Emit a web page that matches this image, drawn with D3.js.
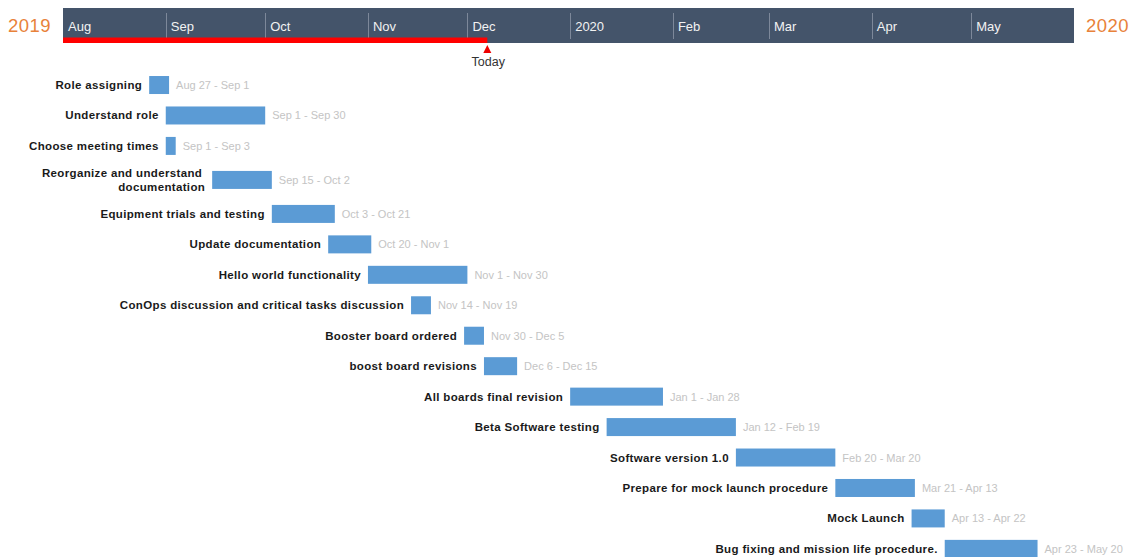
<!DOCTYPE html>
<html>
<head>
<meta charset="utf-8">
<script src="https://cdn.jsdelivr.net/npm/d3@7"></script>
<style>
  html, body { margin: 0; padding: 0; background: #ffffff; }
  svg { display: block; }
</style>
</head>
<body>
<svg id="chart" width="1133" height="557"></svg>
<script>
// ---- data ----
const tasks = [
  "Role assigning",
  "Understand role",
  "Choose meeting times",
  "Reorganize and understand|documentation",
  "Equipment trials and testing",
  "Update documentation",
  "Hello world functionality",
  "ConOps discussion and critical tasks discussion",
  "Booster board ordered",
  "boost board revisions",
  "All boards final revision",
  "Beta Software testing",
  "Software version 1.0",
  "Prepare for mock launch procedure",
  "Mock Launch",
  "Bug fixing and mission life procedure."
];
const startDates = [
  "2019-08-27", "2019-09-01", "2019-09-01", "2019-09-15", "2019-10-03",
  "2019-10-20", "2019-11-01", "2019-11-14", "2019-11-30", "2019-12-06",
  "2020-01-01", "2020-01-12", "2020-02-20", "2020-03-21", "2020-04-13",
  "2020-04-23"
];
const endDates = [
  "2019-09-01", "2019-09-30", "2019-09-03", "2019-10-02", "2019-10-21",
  "2019-11-01", "2019-11-30", "2019-11-19", "2019-12-05", "2019-12-15",
  "2020-01-28", "2020-02-19", "2020-03-20", "2020-04-13", "2020-04-22",
  "2020-05-20"
];
const monthTickLabels = ["Aug", "Sep", "Oct", "Nov", "Dec", "2020", "Feb", "Mar", "Apr", "May"];
const domainStart = "2019-08-01";
const domainEnd = "2020-06-01";
const todayDate = "2019-12-07";
const leftYearLabel = "2019";
const rightYearLabel = "2020";

// ---- helpers ----
const parse = d3.timeParse("%Y-%m-%d");
const fmt = d3.timeFormat("%b %-d");

const svg = d3.select("#chart");

const x = d3.scaleTime()
  .domain([parse(domainStart), parse(domainEnd)])
  .range([63, 1074]);

// header
const headerTop = 8, headerBottom = 43;
svg.append("rect")
  .attr("x", x.range()[0]).attr("y", headerTop)
  .attr("width", x.range()[1] - x.range()[0])
  .attr("height", headerBottom - headerTop)
  .attr("fill", "#44546a");

const monthTicks = d3.timeMonth.range(parse(domainStart), parse(domainEnd));
const hdr = svg.append("g");
hdr.selectAll("line.sep")
  .data(monthTicks.slice(1))
  .join("line")
  .attr("class", "sep")
  .attr("x1", d => Math.round(x(d)) + 0.5)
  .attr("x2", d => Math.round(x(d)) + 0.5)
  .attr("y1", 13).attr("y2", 39)
  .attr("stroke", "#7d889a").attr("stroke-width", 1);

hdr.selectAll("text.month")
  .data(monthTicks)
  .join("text")
  .attr("class", "month")
  .attr("x", d => x(d) + 5)
  .attr("y", 30.5)
  .attr("fill", "#f2f2f2")
  .attr("font-family", "Liberation Sans, Arial, sans-serif")
  .attr("font-size", 13)
  .text((d, i) => monthTickLabels[i]);

// progress line
const today = parse(todayDate);
svg.append("rect")
  .attr("x", x.range()[0]).attr("y", 37.5)
  .attr("width", x(today) - x.range()[0])
  .attr("height", 5.5)
  .attr("fill", "#ff0000");

// today marker
const tx = x(today);
svg.append("path")
  .attr("d", `M${tx},45 L${tx - 4},53 L${tx + 4},53 Z`)
  .attr("fill", "#ee0000");
svg.append("text")
  .attr("x", tx + 1).attr("y", 66)
  .attr("text-anchor", "middle")
  .attr("fill", "#333")
  .attr("font-family", "Liberation Sans, Arial, sans-serif")
  .attr("font-size", 12.5)
  .text("Today");

// year labels
svg.append("text")
  .attr("x", 8).attr("y", 32)
  .attr("fill", "#e8823a")
  .attr("font-family", "Liberation Sans, Arial, sans-serif")
  .attr("font-size", 18.5)
  .attr("letter-spacing", 0.5)
  .text(leftYearLabel);
svg.append("text")
  .attr("x", 1086).attr("y", 32)
  .attr("fill", "#e8823a")
  .attr("font-family", "Liberation Sans, Arial, sans-serif")
  .attr("font-size", 18.5)
  .attr("letter-spacing", 0.5)
  .text(rightYearLabel);

// rows
const rows = tasks.map((t, i) => ({
  lines: t.split("|"),
  start: parse(startDates[i]),
  end: d3.timeDay.offset(parse(endDates[i]), 1),
  s: parse(startDates[i]),
  e: parse(endDates[i])
}));
const baseRow = 30.45, extraPerLine = 7.1;
const heights = rows.map(r => baseRow + (r.lines.length - 1) * extraPerLine);
const cum = d3.cumsum(heights);
const centers = heights.map((h, i) => cum[i] - h / 2);
const y = d3.scaleLinear().domain([0, d3.sum(heights)]).range([69.8, 69.8 + d3.sum(heights)]);
const barH = 18;

const g = svg.append("g");
const row = g.selectAll("g.row").data(rows).join("g").attr("class", "row");

row.append("rect")
  .attr("x", d => x(d.start))
  .attr("y", (d, i) => y(centers[i]) - barH / 2)
  .attr("width", d => x(d.end) - x(d.start))
  .attr("height", barH)
  .attr("fill", "#5b9bd5");

row.append("text")
  .attr("text-anchor", "end")
  .attr("font-family", "Liberation Sans, Arial, sans-serif")
  .attr("font-weight", "bold")
  .attr("font-size", 11.5)
  .attr("letter-spacing", 0.35)
  .attr("fill", "#1a1a1a")
  .each(function (d, i) {
    const t = d3.select(this);
    const n = d.lines.length;
    const lh = 14;
    d.lines.forEach((ln, k) => {
      t.append("tspan")
        .attr("x", x(d.start) - 7 + (k < n - 1 ? -3 : 0))
        .attr("y", y(centers[i]) + 4 + (k - (n - 1) / 2) * lh)
        .text(ln);
    });
  });

row.append("text")
  .attr("x", d => x(d.end) + 7)
  .attr("y", (d, i) => y(centers[i]) + 4)
  .attr("font-family", "Liberation Sans, Arial, sans-serif")
  .attr("font-size", 11)
  .attr("fill", "#c4c4c4")
  .text(d => fmt(d.s) + " - " + fmt(d.e));
</script>
</body>
</html>
